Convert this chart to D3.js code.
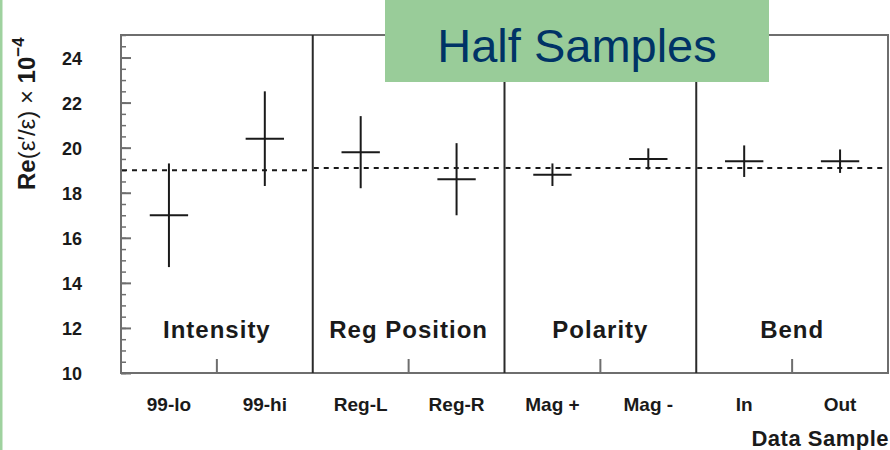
<!DOCTYPE html>
<html>
<head>
<meta charset="utf-8">
<script src="https://cdn.jsdelivr.net/npm/d3@7"></script>
<style>
  html, body { margin: 0; padding: 0; background: #ffffff; }
  svg { display: block; }
</style>
</head>
<body>
<svg id="chart" width="890" height="450"></svg>
<script>
// ---- data ----
const categories = ["99-lo", "99-hi", "Reg-L", "Reg-R", "Mag +", "Mag -", "In", "Out"];
const values     = [17.0, 20.4, 19.8, 18.6, 18.8, 19.5, 19.4, 19.4];
const errors     = [2.3, 2.1, 1.6, 1.6, 0.5, 0.47, 0.7, 0.52];
const groups     = ["Intensity", "Reg Position", "Polarity", "Bend"];
const groupRef   = [19.0, 19.1, 19.1, 19.1];
const yTickValues = [10, 12, 14, 16, 18, 20, 22, 24];
const yMinorValues = d3.range(10, 25.01, 0.5);
const title = "Half Samples";
const xTitle = "Data Sample";

(function () {
// ---- layout ----
const svg = d3.select("#chart");
const W = 890, H = 450;
const pL = 121, pR = 888, pT = 35, pB = 373;

const x = d3.scaleBand().domain(categories).range([pL, pR]).padding(0);
const y = d3.scaleLinear().domain([10, 25]).range([pB, pT]);
const gx = d3.scaleBand().domain(groups).range([pL, pR]).padding(0);

const ink = "#1a1a1a";
const frameCol = "#6e6e6e";
const font = "'Liberation Sans', Arial, Helvetica, sans-serif";

// left green border
svg.append("rect").attr("x", 0).attr("y", 0).attr("width", 2.5).attr("height", H).attr("fill", "#9fd29f");

// frame
svg.append("rect")
  .attr("x", pL).attr("y", pT)
  .attr("width", pR - pL).attr("height", pB - pT)
  .attr("fill", "none").attr("stroke", frameCol).attr("stroke-width", 2);

// minor y ticks (inward)
svg.append("g")
  .attr("transform", `translate(${pL},0)`)
  .call(d3.axisLeft(y).tickValues(yMinorValues).tickSize(-5).tickFormat(""))
  .call(g => g.select(".domain").remove())
  .call(g => g.selectAll("line").attr("stroke", frameCol).attr("stroke-width", 1.5));

// major y ticks with labels
svg.append("g")
  .attr("transform", `translate(${pL},0)`)
  .call(d3.axisLeft(y).tickValues(yTickValues).tickSize(-10).tickPadding(39).tickFormat(d3.format("d")))
  .call(g => g.select(".domain").remove())
  .call(g => g.selectAll("line").attr("stroke", frameCol).attr("stroke-width", 2))
  .call(g => g.selectAll("text")
    .attr("fill", ink)
    .attr("font-family", font)
    .attr("font-weight", "bold")
    .attr("font-size", 18)
    .attr("dy", "0.36em"));

// x axis labels
svg.append("g")
  .attr("transform", `translate(0,${pB})`)
  .call(d3.axisBottom(x).tickSize(0).tickPadding(0))
  .call(g => g.select(".domain").remove())
  .call(g => g.selectAll("text")
    .attr("y", 38).attr("dy", 0)
    .attr("fill", ink)
    .attr("font-family", font)
    .attr("font-weight", "bold")
    .attr("font-size", 19));

// inner bottom ticks at the middle of each group
svg.append("g").selectAll("line")
  .data(groups)
  .join("line")
  .attr("x1", d => gx(d) + gx.bandwidth() / 2)
  .attr("x2", d => gx(d) + gx.bandwidth() / 2)
  .attr("y1", pB).attr("y2", pB - 14)
  .attr("stroke", frameCol).attr("stroke-width", 2);

// group dividers
svg.append("g").selectAll("line")
  .data(groups.slice(1))
  .join("line")
  .attr("x1", d => gx(d)).attr("x2", d => gx(d))
  .attr("y1", pT).attr("y2", pB)
  .attr("stroke", "#2a2a2a").attr("stroke-width", 2);

// dashed reference lines per group
svg.append("g").selectAll("line")
  .data(groups)
  .join("line")
  .attr("x1", d => gx(d) + 1).attr("x2", d => gx(d) + gx.bandwidth() - 1)
  .attr("y1", (d, i) => y(groupRef[i])).attr("y2", (d, i) => y(groupRef[i]))
  .attr("stroke", ink).attr("stroke-width", 2)
  .attr("stroke-dasharray", "5,5");

// group labels
svg.append("g").selectAll("text")
  .data(groups)
  .join("text")
  .attr("x", d => gx(d) + gx.bandwidth() / 2)
  .attr("y", 338)
  .attr("text-anchor", "middle")
  .attr("fill", ink)
  .attr("font-family", font)
  .attr("font-weight", "bold")
  .attr("font-size", 24)
  .attr("letter-spacing", 1)
  .text(d => d);

// error crosses
const pts = categories.map((c, i) => ({ c, v: values[i], e: errors[i] }));
const hw = x.bandwidth() * 0.2;
const crosses = svg.append("g");
crosses.selectAll("line.v")
  .data(pts).join("line").attr("class", "v")
  .attr("x1", d => x(d.c) + x.bandwidth() / 2).attr("x2", d => x(d.c) + x.bandwidth() / 2)
  .attr("y1", d => y(d.v - d.e)).attr("y2", d => y(d.v + d.e))
  .attr("stroke", ink).attr("stroke-width", 2);
crosses.selectAll("line.h")
  .data(pts).join("line").attr("class", "h")
  .attr("x1", d => x(d.c) + x.bandwidth() / 2 - hw).attr("x2", d => x(d.c) + x.bandwidth() / 2 + hw)
  .attr("y1", d => y(d.v)).attr("y2", d => y(d.v))
  .attr("stroke", ink).attr("stroke-width", 2);

// y axis title
const yt = svg.append("text")
  .attr("transform", "translate(35,190) rotate(-90)")
  .attr("fill", ink)
  .attr("font-family", font)
  .attr("font-size", 24);
yt.append("tspan").attr("font-weight", "bold").text("Re");
yt.append("tspan").text("(ε\u2032/ε) × ");
yt.append("tspan").attr("font-weight", "bold").text("10");
yt.append("tspan").attr("font-weight", "bold").attr("font-size", 17).attr("dy", -11).text("\u22124");

// x axis title
svg.append("text")
  .attr("x", 889).attr("y", 446)
  .attr("text-anchor", "end")
  .attr("fill", ink)
  .attr("font-family", font)
  .attr("font-weight", "bold")
  .attr("font-size", 22)
  .attr("letter-spacing", 0.5)
  .text(xTitle);

// title box
svg.append("rect")
  .attr("x", 385).attr("y", 0).attr("width", 384).attr("height", 82)
  .attr("fill", "#99cc99");
svg.append("text")
  .attr("x", 577).attr("y", 62)
  .attr("text-anchor", "middle")
  .attr("fill", "#003366")
  .attr("font-family", font)
  .attr("font-size", 47)
  .text(title);
})();
</script>
</body>
</html>
